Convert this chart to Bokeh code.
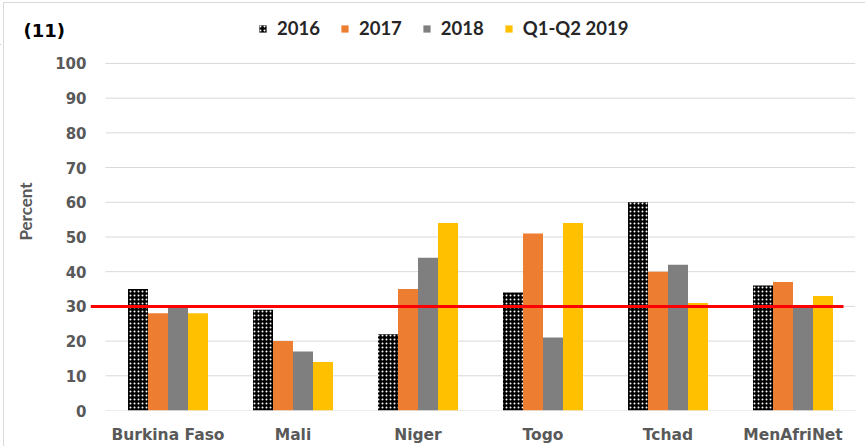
from bokeh.plotting import figure
from bokeh.layouts import column
from bokeh.models import Range1d, FixedTicker, ColumnDataSource, Legend, LegendItem
from bokeh.core.properties import value
from bokeh.embed import file_html
from bokeh.resources import INLINE

categories = ["Burkina Faso", "Mali", "Niger", "Togo", "Tchad", "MenAfriNet"]
series_names = ["2016", "2017", "2018", "Q1-Q2 2019"]
v2016 = [35, 29, 22, 34, 60, 36]
v2017 = [28, 20, 35, 51, 40, 37]
v2018 = [30, 17, 44, 21, 42, 30]
v2019 = [28, 14, 54, 54, 31, 33]
y_ticks = [0, 10, 20, 30, 40, 50, 60, 70, 80, 90, 100]
target = 30
panel_label = "(11)"

colors = ["#000000", "#ED7D31", "#7F7F7F", "#FFC000"]
offsets = [-0.24, -0.08, 0.08, 0.24]
bar_w = 0.16
hatch = dict(hatch_pattern="dot", hatch_color="white", hatch_scale=4, hatch_weight=1)

# ---- header strip: panel label and legend ----
top = figure(width=865, height=45, output_backend="svg", toolbar_location=None,
             x_range=Range1d(0, 865), y_range=Range1d(0, 45),
             min_border_left=0, min_border_right=0, min_border_top=0, min_border_bottom=0)
top.frame_align = False
top.axis.visible = False
top.grid.visible = False
top.outline_line_color = None
top.background_fill_alpha = 0
top.border_fill_alpha = 0
top.text(x=[23], y=[15], text=[panel_label], text_font=value("DejaVu Sans"),
         text_font_style="bold", text_font_size="18px", text_color="#000000",
         text_baseline="middle")
items = []
for k, name in enumerate(series_names):
    kw = hatch if k == 0 else {}
    # legend swatch only: the single bar sits outside the visible x range
    r = top.vbar(x=[-100], top=[1], width=1, fill_color=colors[k], line_color=None, **kw)
    items.append(LegendItem(label=name, renderers=[r]))
lg = Legend(items=items, orientation="horizontal", location=(258, 6), padding=0, margin=0,
            spacing=20, glyph_width=9, glyph_height=9, label_height=18, label_standoff=10,
            border_line_color=None, background_fill_alpha=0,
            label_text_font="Lato", label_text_font_style="bold",
            label_text_font_size="18.5px", label_text_color="#262626")
top.add_layout(lg)

# ---- main chart ----
p = figure(width=865, height=401, output_backend="svg", toolbar_location=None,
           x_range=Range1d(-0.12, 6), y_range=Range1d(0, 105.17),
           min_border_left=90, min_border_right=10, min_border_top=0, min_border_bottom=35)
p.frame_align = False
p.outline_line_color = None
p.background_fill_alpha = 0
p.border_fill_alpha = 0
p.xgrid.visible = False
p.ygrid.visible = False

n = len(categories)
centers = [i + 0.5 for i in range(n)]

p.segment(x0=[0] * len(y_ticks), x1=[n] * len(y_ticks), y0=y_ticks, y1=y_ticks,
          line_color="#D9D9D9", line_width=1)

for k, vals in enumerate([v2016, v2017, v2018, v2019]):
    src = ColumnDataSource(dict(x=[c + offsets[k] for c in centers], top=vals))
    kw = hatch if k == 0 else {}
    p.vbar(x="x", top="top", width=bar_w, source=src, fill_color=colors[k],
           line_color=None, **kw)

p.segment(x0=[-0.12], x1=[5.904], y0=[target], y1=[target], line_color="#FF0000", line_width=3)

p.xaxis.ticker = FixedTicker(ticks=centers)
p.xaxis.major_label_overrides = {c: cat for c, cat in zip(centers, categories)}
p.xaxis.axis_line_color = None
p.xaxis.major_tick_line_color = None
p.xaxis.minor_tick_line_color = None
p.xaxis.major_tick_out = 0
p.xaxis.major_tick_in = 0
p.xaxis.major_label_standoff = 15
p.xaxis.major_label_text_font = "DejaVu Sans"
p.xaxis.major_label_text_font_style = "bold"
p.xaxis.major_label_text_font_size = "15.5px"
p.xaxis.major_label_text_color = "#595959"

p.yaxis.ticker = FixedTicker(ticks=y_ticks)
p.yaxis.axis_line_color = None
p.yaxis.major_tick_line_color = None
p.yaxis.minor_tick_line_color = None
p.yaxis.major_tick_out = 0
p.yaxis.major_tick_in = 0
p.yaxis.major_label_standoff = 4
p.yaxis.major_label_text_font = "DejaVu Sans"
p.yaxis.major_label_text_font_style = "bold"
p.yaxis.major_label_text_font_size = "15px"
p.yaxis.major_label_text_color = "#595959"
p.yaxis.axis_label = "\u00a0" * 8 + "Percent"
p.yaxis.axis_label_standoff = 16
p.yaxis.axis_label_text_font = "Lato"
p.yaxis.axis_label_text_font_style = "bold"
p.yaxis.axis_label_text_font_size = "17px"
p.yaxis.axis_label_text_color = "#595959"

layout = column(top, p, spacing=0)
# thin light-grey chart border (top and left edges, as in the cropped source image)
layout.styles = {
    "background": ("linear-gradient(#D9D9D9, #D9D9D9) 3px 2px / 1px calc(100% - 2px) no-repeat, "
                   "linear-gradient(#D9D9D9, #D9D9D9) 3px 2px / calc(100% - 3px) 1px no-repeat, "
                   "#FFFFFF"),
}
open("out.html", "w").write(file_html(layout, INLINE))
